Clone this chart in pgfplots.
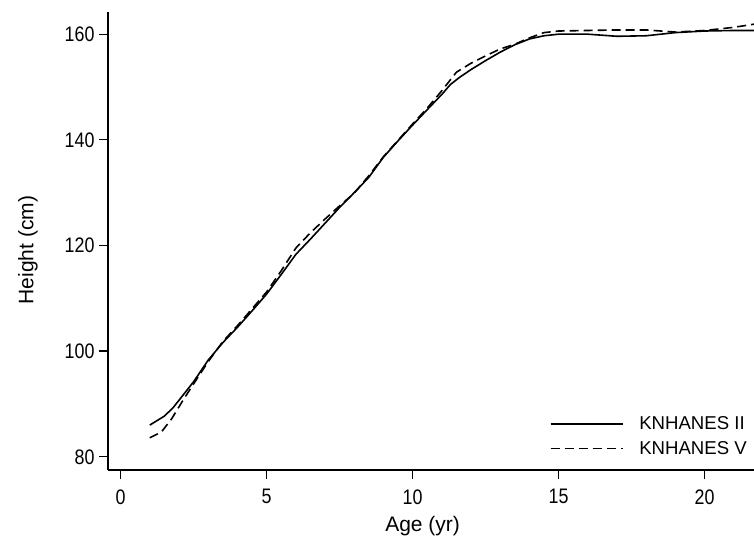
\documentclass[border=0pt]{standalone}
\usepackage{fontspec}
\setmainfont{Liberation Sans}
\newfontfamily\tickfont{Liberation Sans}[FakeStretch=0.85]
\usepackage{pgfplots}
\pgfplotsset{compat=1.18}
\begin{document}
\begin{tikzpicture}
\begin{axis}[
  scale only axis, width=646pt, height=458pt,
  xmin=-0.43, xmax=21.69, ymin=77.5, ymax=164.2,
  axis x line=bottom, axis y line=left,
  axis line style={-, line width=1.3pt, black},
  tick align=outside, major tick length=9pt,
  tick style={line width=1.3pt, black},
  xtick={0,5,10,15,20}, ytick={80,100,120,140,160},
  /pgf/number format/assume math mode=true,
  ticklabel style={font=\tickfont\fontsize{21}{24}\selectfont},
  xticklabel style={yshift=-7pt},
  yticklabel style={xshift=-1pt},
  xlabel={Age (yr)}, ylabel={Height (cm)},
  every axis x label/.style={at={(axis description cs:0.487,-0.1225)}, anchor=center, font=\fontsize{21}{24}\selectfont},
  every axis y label/.style={at={(axis description cs:-0.124,0.48)}, anchor=center, rotate=90, font=\fontsize{21}{24}\selectfont},
  legend style={draw=none, fill=none, at={(axis description cs:1,0)}, anchor=south east,
    yshift=10pt, xshift=-2pt,
    font=\fontsize{18.6}{22}\selectfont, row sep=6pt},
  legend cell align=left,
  legend image code/.code={\draw[#1] (0pt,0pt) -- (72pt,0pt); \path (86pt,0pt);},
]
\addplot[black, line width=1.6pt] coordinates {
(1.0,86.0) (1.5,87.7) (1.8,89.3) (2.0,90.7) (2.5,94.2) (3.0,98.3) (3.5,101.6)
(4.0,104.5) (4.5,107.6) (5.0,110.8) (5.5,114.5) (6.0,118.3) (6.5,121.2) (7.0,124.2)
(7.5,127.2) (8.0,130.0) (8.5,132.9) (9.0,136.7) (9.5,139.8) (10.0,142.8) (10.5,145.7)
(11.0,148.6) (11.3,150.5) (11.6,151.8) (12.0,153.3) (12.5,155.0) (13.0,156.6)
(13.5,158.0) (14.0,159.1) (14.5,159.7) (15.0,160.0) (16.0,160.0) (17.0,159.6)
(18.0,159.7) (19.0,160.3) (20.0,160.6) (21.0,160.7) (21.7,160.7)
};
\addlegendentry{KNHANES II}
\addplot[black, line width=1.6pt, dash pattern=on 9pt off 5pt] coordinates {
(1.0,83.6) (1.4,84.7) (1.75,87.2) (2.15,90.8) (2.5,93.8) (3.0,98.0) (3.5,101.8)
(4.0,104.8) (4.5,108.0) (5.0,111.2) (5.5,115.2) (6.0,119.5) (6.5,122.4) (7.0,125.0)
(7.5,127.5) (8.0,129.9) (8.5,133.2) (9.0,136.8) (9.5,139.9) (10.0,143.0) (10.5,146.0)
(11.0,149.3) (11.5,152.8) (12.0,154.5) (12.5,155.9) (13.0,157.2) (13.5,158.1)
(14.0,159.3) (14.5,160.3) (15.0,160.6) (16.0,160.7) (17.0,160.8) (18.0,160.8)
(19.0,160.4) (20.0,160.7) (21.0,161.3) (21.7,161.9)
};
\addlegendentry{KNHANES V}
\end{axis}
\pgfresetboundingbox
\path ([shift={(-108pt,-79pt)}]current axis.south west) rectangle ([shift={(0pt,12pt)}]current axis.north east);
\end{tikzpicture}
\end{document}
